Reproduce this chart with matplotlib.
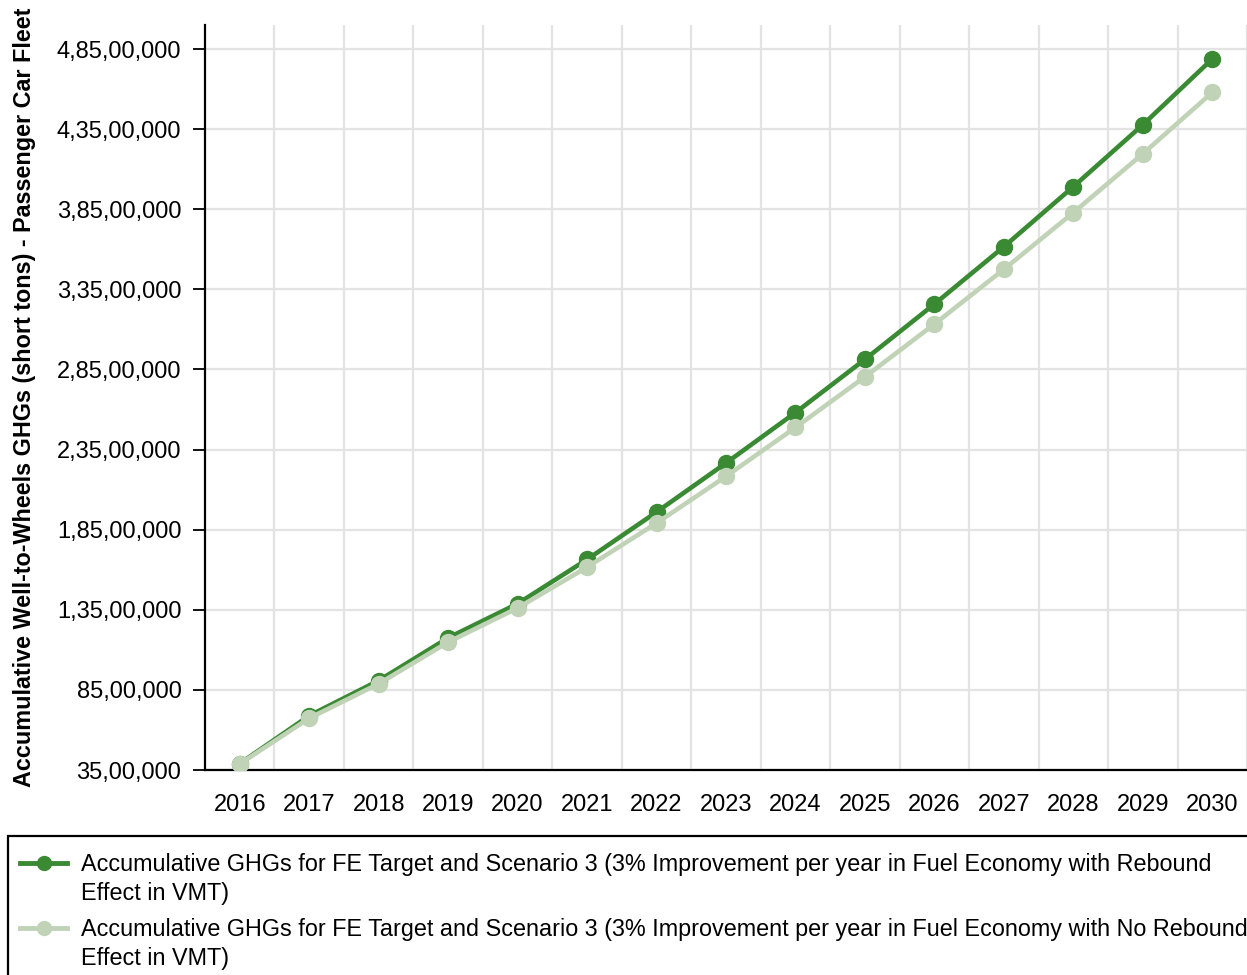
import matplotlib
matplotlib.use("Agg")
import matplotlib.pyplot as plt
from matplotlib.lines import Line2D
from matplotlib.patches import Rectangle
from matplotlib.ticker import FuncFormatter

plt.rcParams["font.family"] = ["Liberation Sans", "DejaVu Sans"]

YEARS = [str(y) for y in range(2016, 2031)]
GHG_REBOUND = [3.90e6, 6.89e6, 9.08e6, 11.75e6, 13.88e6, 16.64e6, 19.60e6, 22.66e6,
               25.81e6, 29.13e6, 32.58e6, 36.16e6, 39.91e6, 43.77e6, 47.88e6]
GHG_NO_REBOUND = [3.88e6, 6.73e6, 8.88e6, 11.48e6, 13.61e6, 16.16e6, 18.91e6, 21.83e6,
                  24.88e6, 28.04e6, 31.33e6, 34.75e6, 38.29e6, 41.96e6, 45.79e6]
Y_TICKS = [3.5e6 + 5e6 * i for i in range(10)]
LABELS = [
    "Accumulative GHGs for FE Target and Scenario 3 (3% Improvement per year in Fuel Economy with Rebound\nEffect in VMT)",
    "Accumulative GHGs for FE Target and Scenario 3 (3% Improvement per year in Fuel Economy with No Rebound\nEffect in VMT)",
]
DARK = "#3a8a34"
LIGHT = "#c0d3b6"


def indian(v, _pos=None):
    s = str(int(round(v)))
    if len(s) <= 3:
        return s
    head, tail = s[:-3], s[-3:]
    groups = []
    while len(head) > 2:
        groups.insert(0, head[-2:])
        head = head[:-2]
    if head:
        groups.insert(0, head)
    return ",".join(groups + [tail])


W, H = 1247, 975
fig = plt.figure(figsize=(W / 100, H / 100), dpi=100)
ax = fig.add_axes([205 / W, (H - 770) / H, 1042 / W, 745 / H])

x = list(range(len(YEARS)))
ax.plot(x, GHG_REBOUND, color=DARK, lw=3.3, marker="o", ms=11.5, zorder=3)
ax.plot(x, GHG_NO_REBOUND, color=LIGHT, lw=3.3, marker="o", ms=11.5, zorder=4)

ax.set_xlim(-0.5, -0.5 + 1042 / 70)
ax.set_ylim(3.5e6, 5.0e7)
ax.set_yticks(Y_TICKS)
ax.yaxis.set_major_formatter(FuncFormatter(indian))
ax.set_xticks(x)
ax.set_xticklabels(YEARS)
ax.set_xticks([i + 0.5 for i in x], minor=True)
ax.grid(True, axis="y", color="#e3e3e3", lw=1.6)
ax.grid(True, axis="x", which="minor", color="#e3e3e3", lw=1.6)
ax.set_axisbelow(True)
ax.tick_params(axis="y", length=9, width=1.3, labelsize=17, pad=8)
ax.tick_params(axis="x", which="both", length=0, labelsize=17, pad=17.5)
for side in ("top", "right"):
    ax.spines[side].set_visible(False)
for side in ("left", "bottom"):
    ax.spines[side].set_linewidth(1.6)
ax.set_ylabel("Accumulative Well-to-Wheels GHGs (short tons) - Passenger Car Fleet",
              fontsize=16.8, fontweight="bold")
ax.yaxis.set_label_coords(-169 / 1042, 0.5)

# legend box running off the right and bottom edges; handles sit on the first text line
fig.patches.append(Rectangle((8 / W, -0.05), 1.0, (H - 836) / H + 0.05, transform=fig.transFigure,
                             fill=False, edgecolor="black", lw=1.6))
for i, (label, color) in enumerate(zip(LABELS, (DARK, LIGHT))):
    yc = 1 - (863 + 65 * i) / H
    fig.add_artist(Line2D([20 / W, 67 / W], [yc, yc], transform=fig.transFigure,
                          color=color, lw=3.5))
    fig.add_artist(Line2D([43.5 / W], [yc], transform=fig.transFigure, color=color,
                          marker="o", ms=10, lw=0))
    fig.text(81 / W, yc + 10 / H, label, fontsize=16.8, va="top", linespacing=1.36)

fig.savefig("out.png", dpi=100)
